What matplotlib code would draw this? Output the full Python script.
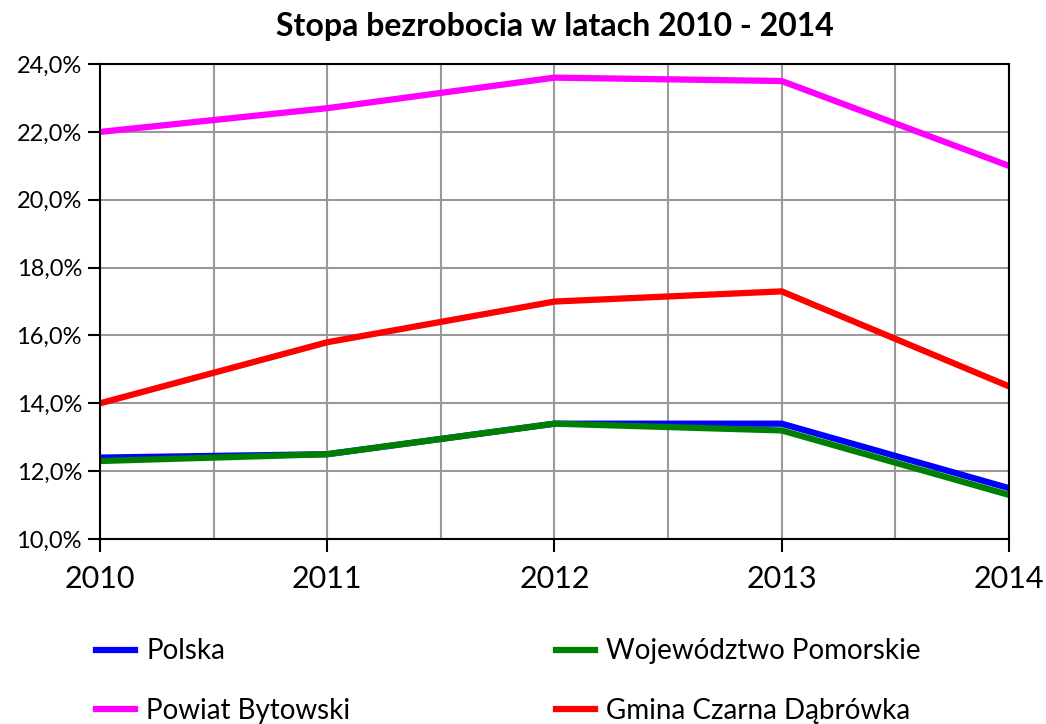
import matplotlib.pyplot as plt
from matplotlib.ticker import FuncFormatter, MultipleLocator

plt.rcParams['font.family'] = ['Lato', 'DejaVu Sans']

lata = [2010, 2011, 2012, 2013, 2014]
polska = [12.4, 12.5, 13.4, 13.4, 11.5]
pomorskie = [12.3, 12.5, 13.4, 13.2, 11.3]
bytowski = [22.0, 22.7, 23.6, 23.5, 21.0]
czarna_dabrowka = [14.0, 15.8, 17.0, 17.3, 14.5]

fig = plt.figure(figsize=(10.46, 7.24), dpi=100)
ax = fig.add_axes([0.0956, 0.2555, 0.869, 0.656])

l1, = ax.plot(lata, polska, color='#0000ff', lw=4.5, label='Polska')
l2, = ax.plot(lata, pomorskie, color='#008000', lw=4.5, label='Województwo Pomorskie')
l3, = ax.plot(lata, bytowski, color='#ff00ff', lw=4.5, label='Powiat Bytowski')
l4, = ax.plot(lata, czarna_dabrowka, color='#ff0000', lw=4.5, label='Gmina Czarna Dąbrówka')

ax.set_xlim(2010, 2014)
ax.set_ylim(10, 24)
ax.xaxis.set_major_locator(MultipleLocator(1))
ax.xaxis.set_minor_locator(MultipleLocator(0.5))
ax.yaxis.set_major_locator(MultipleLocator(2))
ax.yaxis.set_major_formatter(FuncFormatter(lambda v, p: '{:.1f}%'.format(v).replace('.', ',')))
ax.grid(which='both', color='#999999', lw=1.5)
ax.tick_params(axis='x', which='major', labelsize=22, length=9, width=1.5, pad=10)
ax.tick_params(axis='x', which='minor', length=0)
ax.tick_params(axis='y', labelsize=17, length=9, width=1.5, pad=4)
for s in ax.spines.values():
    s.set_linewidth(1.5)
ax.set_axisbelow(True)

ax.set_title('Stopa bezrobocia w latach 2010 - 2014', fontsize=23, fontweight='bold', pad=20)

# kolejnosc wierszami: Polska, Pomorskie / Bytowski, Gmina
fig.legend([l1, l3, l2, l4], [l.get_label() for l in (l1, l3, l2, l4)],
           loc='upper left', bbox_to_anchor=(0.068, 0.153), ncol=2, frameon=False,
           fontsize=20, handlelength=1.4, handletextpad=0.4, columnspacing=7.4,
           labelspacing=1.22)

plt.savefig('out.png', dpi=100)
